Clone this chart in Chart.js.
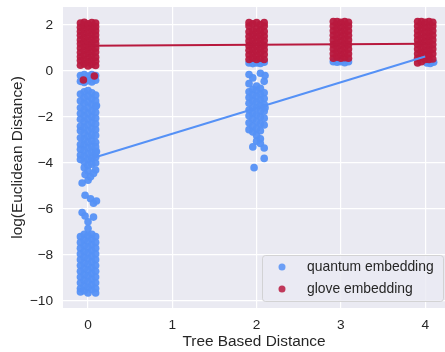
<!DOCTYPE html>
<html>
<head>
<meta charset="utf-8">
<script src="https://cdn.jsdelivr.net/npm/chart.js@4"></script>
<style>
  html, body { margin: 0; padding: 0; background: #fff; }
  #wrap { width: 445px; height: 352px; }
</style>
</head>
<body>
<div id="wrap"><canvas id="myChart" width="445" height="352"></canvas></div>
<script>
// tree distance categories and tick labels
const xTicks = [0, 1, 2, 3, 4];
const yTicks = [-10, -8, -6, -4, -2, 0, 2];

// jittered samples: [category, jitter, y values]
const quantumPoints = [
  [0, -0.09, [-0.2, -0.45, -1.0, -1.3, -1.6, -1.85, -2.1, -2.4, -2.6, -2.9, -3.2, -3.4, -3.65, -3.85, -7.2, -7.45, -7.7, -7.95, -8.2, -8.45, -8.7, -8.95, -9.2, -9.45, -9.6]],
  [0, -0.045, [-0.15, -0.5, -0.9, -1.15, -1.4, -1.7, -1.95, -2.2, -2.45, -2.7, -2.95, -3.2, -3.45, -3.7, -3.95, -4.2, -7.1, -7.35, -7.6, -7.85, -8.1, -8.35, -8.6, -8.85, -9.1, -9.35, -9.55]],
  [0, 0, [-0.22, -0.42, -0.85, -1.1, -1.35, -1.6, -1.85, -2.1, -2.35, -2.6, -2.85, -3.1, -3.35, -3.6, -3.85, -4.1, -4.35, -4.75, -6.55, -6.85, -7.15, -7.4, -7.65, -7.9, -8.15, -8.4, -8.65, -8.9, -9.15, -9.4, -9.65]],
  [0, 0.045, [-0.15, -0.48, -0.95, -1.2, -1.45, -1.75, -2.0, -2.25, -2.5, -2.8, -3.05, -3.3, -3.55, -3.8, -4.05, -7.1, -7.3, -7.55, -7.8, -8.05, -8.3, -8.55, -8.8, -9.05, -9.3, -9.5]],
  [0, 0.09, [-0.2, -0.4, -1.05, -1.3, -1.55, -1.8, -2.05, -2.3, -2.55, -2.8, -3.1, -3.3, -3.55, -3.75, -4.0, -4.3, -7.2, -7.45, -7.7, -7.95, -8.2, -8.45, -8.7, -8.95, -9.2, -9.45, -9.65]],
  [0, -0.07, [-4.87, -6.15]],
  [0, -0.035, [-4.5, -5.4, -6.3]],
  [0, 0.03, [-4.6, -5.55]],
  [0, 0.065, [-4.45, -5.75, -6.35]],
  [0, 0.1, [-5.65, -3.5, -1.5]],
  [2, -0.09, [0.35, -0.15, -0.55, -0.9, -1.15, -1.4, -1.7, -1.95, -2.25, -2.55]],
  [2, -0.045, [0.32, -0.3, -0.8, -1.05, -1.3, -1.6, -1.85, -2.1, -2.4, -2.65, -3.3]],
  [2, 0, [0.35, -0.65, -0.85, -1.1, -1.35, -1.6, -1.9, -2.2, -2.5, -2.8, -3.05]],
  [2, 0.045, [0.33, -0.1, -0.75, -1.0, -1.25, -1.5, -1.75, -2.0, -2.3, -2.6, -2.95, -3.15]],
  [2, 0.09, [0.38, -0.45, -0.95, -1.2, -1.45, -1.75, -2.05, -2.35, -3.35, -3.8]],
  [2, -0.03, [-4.2]],
  [2, 0.1, [-0.2, -1.6]],
  [3, -0.09, [0.4]],
  [3, -0.045, [0.38]],
  [3, 0, [0.4]],
  [3, 0.045, [0.36]],
  [3, 0.09, [0.4]],
  [4, 0.02, [0.35]],
  [4, 0.06, [0.33]],
  [4, 0.1, [0.38]]
];

const glovePoints = [
  [0, -0.09, [0.25, 0.45, 0.62, 0.8, 1.0, 1.18, 1.35, 1.55, 1.72, 1.9, 2.08]],
  [0, -0.045, [0.3, 0.5, 0.7, 0.9, 1.08, 1.27, 1.45, 1.63, 1.82, 2.0, 2.12]],
  [0, 0, [0.22, 0.4, 0.58, 0.78, 0.95, 1.12, 1.3, 1.5, 1.68, 1.88, 2.05]],
  [0, 0.045, [0.28, 0.48, 0.66, 0.85, 1.05, 1.22, 1.4, 1.6, 1.78, 1.95, 2.1]],
  [0, 0.09, [0.24, 0.42, 0.6, 0.82, 1.0, 1.2, 1.38, 1.56, 1.75, 1.92, 2.08]],
  [0, -0.055, [-0.39]],
  [0, 0.075, [-0.22]],
  [2, -0.09, [0.5, 0.7, 0.9, 1.1, 1.3, 1.5, 1.7, 1.95, 2.1]],
  [2, -0.045, [0.55, 0.75, 0.95, 1.15, 1.35, 1.55, 1.75, 2.05]],
  [2, 0, [0.5, 0.68, 0.88, 1.08, 1.28, 1.48, 1.68, 1.85, 2.1]],
  [2, 0.045, [0.55, 0.78, 0.98, 1.18, 1.38, 1.58, 1.78, 2.02]],
  [2, 0.09, [0.5, 0.72, 0.92, 1.12, 1.32, 1.52, 1.72, 1.95, 2.1]],
  [3, -0.09, [0.55, 0.75, 0.95, 1.15, 1.35, 1.55, 1.75, 1.95, 2.15]],
  [3, -0.045, [0.6, 0.8, 1.0, 1.2, 1.4, 1.6, 1.8, 2.0, 2.15]],
  [3, 0, [0.55, 0.72, 0.92, 1.12, 1.32, 1.52, 1.72, 1.92, 2.12]],
  [3, 0.045, [0.58, 0.78, 0.98, 1.18, 1.38, 1.58, 1.78, 1.98, 2.15]],
  [3, 0.09, [0.55, 0.75, 0.95, 1.15, 1.35, 1.55, 1.75, 1.95, 2.12]],
  [4, -0.09, [0.35, 0.55, 0.75, 0.95, 1.15, 1.35, 1.55, 1.75, 1.95, 2.15]],
  [4, -0.045, [0.4, 0.6, 0.8, 1.0, 1.2, 1.4, 1.6, 1.8, 2.0, 2.15]],
  [4, 0, [0.5, 0.7, 0.9, 1.1, 1.3, 1.5, 1.7, 1.9, 2.12]],
  [4, 0.045, [0.5, 0.72, 0.92, 1.12, 1.32, 1.52, 1.72, 1.92, 2.15]],
  [4, 0.09, [0.52, 0.75, 0.95, 1.15, 1.35, 1.55, 1.75, 1.95, 2.12]]
];

// regression fits, evaluated at x = 0 and x = 4
const fitX = [0, 4];
const quantumFit = [-3.85, 0.63];
const gloveFit = [1.10, 1.18];

const blue = 'rgb(85,145,246)';
const red = 'rgb(184,25,62)';
const textColor = '#262626';
const fontFamily = "'Liberation Sans', Arial, sans-serif";

function toXY(rows) {
  return rows.flatMap(([c, dx, ys]) => ys.map(y => ({ x: c + dx, y: y })));
}
function fitLine(ys) {
  return fitX.map((x, i) => ({ x: x, y: ys[i] }));
}
function minus(v) {
  return String(v).replace('-', '\u2212');
}

const background = {
  id: 'background',
  beforeDraw(chart) {
    const { ctx, chartArea: a } = chart;
    ctx.save();
    ctx.fillStyle = '#fff';
    ctx.fillRect(0, 0, chart.width, chart.height);
    ctx.fillStyle = '#eaeaf2';
    ctx.fillRect(a.left, a.top, a.right - a.left, a.bottom - a.top);
    ctx.restore();
  }
};

// legend drawn inside the plot, lower right
const innerLegend = {
  id: 'innerLegend',
  afterDraw(chart) {
    const { ctx, chartArea: a } = chart;
    const items = chart.data.datasets.filter(d => d.type === 'scatter');
    const w = 181, h = 46;
    const x = a.right - 2 - w, y = a.bottom - 7 - h;
    ctx.save();
    ctx.beginPath();
    ctx.roundRect(x + 0.5, y + 0.5, w, h, 3);
    ctx.fillStyle = 'rgba(234,234,242,0.8)';
    ctx.fill();
    ctx.strokeStyle = 'rgba(204,204,204,0.8)';
    ctx.lineWidth = 1;
    ctx.stroke();
    ctx.font = '13.9px ' + fontFamily;
    ctx.textBaseline = 'middle';
    items.forEach((d, i) => {
      const cy = y + 12 + i * 22;
      ctx.beginPath();
      ctx.arc(x + 20, cy, 3.5, 0, Math.PI * 2);
      ctx.fillStyle = d.legendColor;
      ctx.fill();
      ctx.fillStyle = textColor;
      ctx.fillText(d.label, x + 45, cy);
    });
    ctx.restore();
  }
};

Chart.defaults.font.family = fontFamily;

new Chart(document.getElementById('myChart'), {
  data: {
    datasets: [
      {
        type: 'line',
        label: 'glove fit',
        data: fitLine(gloveFit),
        borderColor: red,
        borderWidth: 2,
        pointRadius: 0,
        order: 0
      },
      {
        type: 'line',
        label: 'quantum fit',
        data: fitLine(quantumFit),
        borderColor: blue,
        borderWidth: 2,
        pointRadius: 0,
        order: 1
      },
      {
        type: 'scatter',
        label: 'quantum embedding',
        data: toXY(quantumPoints),
        backgroundColor: 'rgba(85,145,246,0.95)',
        legendColor: 'rgba(85,145,246,0.85)',
        borderWidth: 0,
        pointRadius: 3.8,
        order: 3
      },
      {
        type: 'scatter',
        label: 'glove embedding',
        data: toXY(glovePoints),
        backgroundColor: 'rgba(184,25,62,0.95)',
        legendColor: 'rgba(184,25,62,0.85)',
        borderWidth: 0,
        pointRadius: 3.8,
        order: 2
      }
    ]
  },
  options: {
    responsive: false,
    animation: false,
    layout: { autoPadding: false, padding: { left: 0, right: 0, top: 7, bottom: 0 } },
    plugins: {
      legend: { display: false },
      tooltip: { enabled: false }
    },
    scales: {
      x: {
        type: 'linear',
        min: -0.297,
        max: 4.235,
        afterBuildTicks: s => { s.ticks = xTicks.map(v => ({ value: v })); },
        afterFit: s => { s.height = 44; s.paddingLeft = 0; s.paddingRight = 0; },
        grid: { color: '#fff', lineWidth: 1.2, drawTicks: false },
        border: { display: false },
        ticks: { color: textColor, font: { size: 13.7 }, padding: 9, callback: v => minus(v) },
        title: {
          display: true,
          text: 'Tree Based Distance',
          color: textColor,
          font: { size: 15.4 },
          padding: { top: 0, bottom: 1 }
        }
      },
      y: {
        type: 'linear',
        min: -10.3,
        max: 2.78,
        afterBuildTicks: s => { s.ticks = yTicks.map(v => ({ value: v })); },
        afterFit: s => { s.width = 63; s.paddingTop = 0; s.paddingBottom = 0; },
        grid: { color: '#fff', lineWidth: 1.2, drawTicks: false },
        border: { display: false },
        ticks: { color: textColor, font: { size: 13.7 }, padding: 10, callback: v => minus(v) },
        title: {
          display: true,
          text: 'log(Euclidean Distance)',
          color: textColor,
          font: { size: 15.4 },
          padding: { top: 9, bottom: 0 }
        }
      }
    }
  },
  plugins: [background, innerLegend]
});
</script>
</body>
</html>
